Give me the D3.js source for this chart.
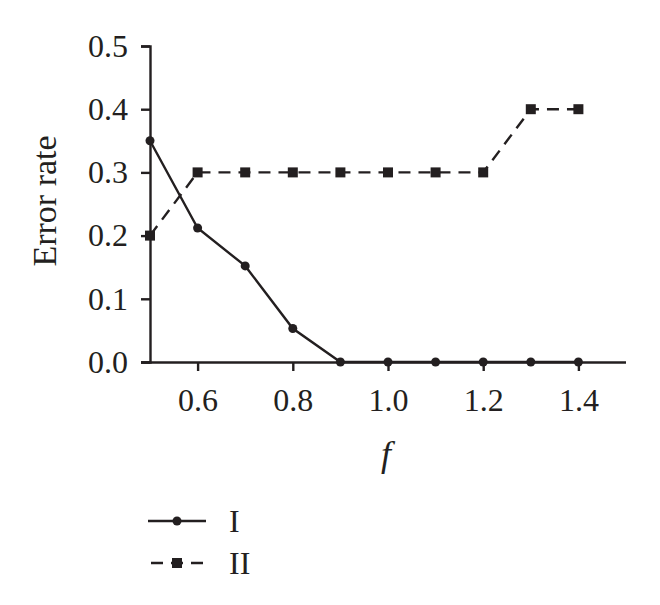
<!DOCTYPE html>
<html><head><meta charset="utf-8">
<script src="https://cdn.jsdelivr.net/npm/d3@7"></script>
<style>body{margin:0;background:#fff}svg{display:block}</style>
</head><body>
<script>
const xValues = [0.5,0.6,0.7,0.8,0.9,1.0,1.1,1.2,1.3,1.4];
const seriesI = [0.35,0.212,0.152,0.053,0,0,0,0,0,0];
const seriesII = [0.2,0.3,0.3,0.3,0.3,0.3,0.3,0.3,0.4,0.4];
const xTicks = [0.6,0.8,1.0,1.2,1.4];
const yTicks = [0,0.1,0.2,0.3,0.4,0.5];
const seriesNames = ["I","II"];

const W=660,H=605;
const svg=d3.select("body").append("svg").attr("width",W).attr("height",H);
const x=d3.scaleLinear().domain([0.5,1.5]).range([150,626]);
const y=d3.scaleLinear().domain([0,0.5]).range([362,46]);
const font="'Liberation Serif', 'DejaVu Serif', serif";
const col="#231f20";

const gx=svg.append("g").attr("transform","translate(0,362)")
  .call(d3.axisBottom(x).tickValues(xTicks).tickFormat(d3.format(".1f")).tickSizeOuter(0).tickSize(9).tickPadding(17));
const gy=svg.append("g").attr("transform","translate(150,0)")
  .call(d3.axisLeft(y).tickValues(yTicks).tickFormat(d3.format(".1f")).tickSizeOuter(0).tickSize(9).tickPadding(13));
[gx,gy].forEach(g=>{
  g.selectAll("path,line").attr("stroke",col).attr("stroke-width",2.4);
  g.selectAll("text").attr("fill",col).style("font-family",font).style("font-size","32px");
});
gx.select(".domain").attr("d","M141,0.5H626");

svg.append("text").attr("transform","translate(56,201) rotate(-90)").attr("text-anchor","middle")
  .style("font-family",font).style("font-size","34px").attr("fill",col).text("Error rate");
svg.append("text").attr("x",386).attr("y",466).attr("text-anchor","middle")
  .style("font-family",font).style("font-size","36px").style("font-style","italic").attr("fill",col).text("f");

const line=d3.line().x((d,i)=>x(xValues[i])).y(d=>y(d));
svg.append("path").datum(seriesI).attr("d",line).attr("fill","none").attr("stroke",col).attr("stroke-width",2.4);
svg.append("path").datum(seriesII).attr("d",line).attr("fill","none").attr("stroke",col).attr("stroke-width",2.4).attr("stroke-dasharray","12,8");
svg.selectAll("circle.pI").data(seriesI).enter().append("circle").attr("cx",(d,i)=>x(xValues[i])).attr("cy",d=>y(d)).attr("r",4.5).attr("fill",col);
svg.selectAll("rect.pII").data(seriesII).enter().append("rect").attr("x",(d,i)=>x(xValues[i])-5).attr("y",d=>y(d)-5).attr("width",10).attr("height",10).attr("fill",col);

// legend
const leg=svg.append("g");
seriesNames.forEach((n,i)=>{
  const ly=521+i*42;
  leg.append("line").attr("x1",148).attr("x2",206).attr("y1",ly).attr("y2",ly).attr("stroke",col).attr("stroke-width",2.4)
    .attr("stroke-dasharray",i===1?"12,8":null).attr("stroke-dashoffset",i===1?-3:0);
  if(i===0) leg.append("circle").attr("cx",177).attr("cy",ly).attr("r",4.5).attr("fill",col);
  else leg.append("rect").attr("x",172).attr("y",ly-5).attr("width",10).attr("height",10).attr("fill",col);
  leg.append("text").attr("x",229).attr("y",ly+11).style("font-family",font).style("font-size","32px").attr("fill",col).text(n);
});
</script>
</body></html>
